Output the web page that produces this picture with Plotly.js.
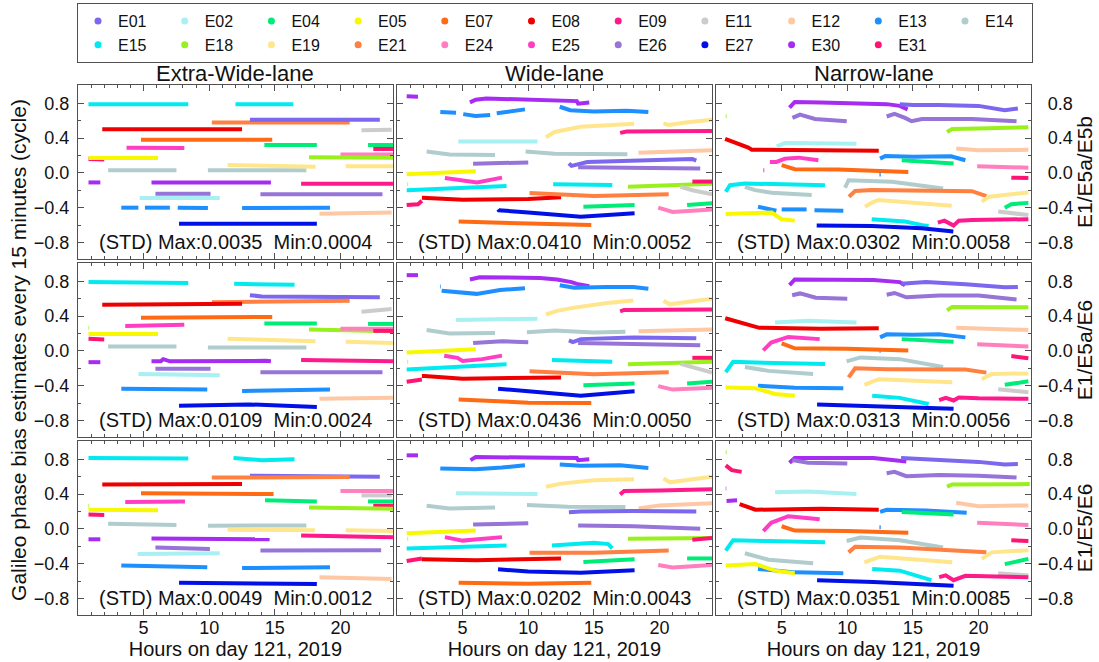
<!DOCTYPE html>
<html><head><meta charset="utf-8">
<script src="https://cdn.plot.ly/plotly-3.0.1.min.js"></script>
<style>html,body{margin:0;padding:0;background:#fff}#chart{width:1099px;height:662px}</style>
</head><body><div id="chart"></div>
<script>
const satellites = ['E01','E02','E04','E05','E07','E08','E09','E11','E12','E13','E14','E15','E18','E19','E21','E24','E25','E26','E27','E30','E31'];
const satColors = ['#7b68ee','#a8f0f2','#00ec78','#f8f800','#ff6a14','#ee0000','#ff1a8c','#cccccc','#ffc8a4','#1e8fff','#b0cccc','#00eaf0','#9af01c','#ffe68c','#ff8040','#ff7fbf','#ff3ec4','#9674d8','#0010e6','#a62cf2','#ff1474'];
const laneTitles = ['Extra-Wide-lane','Wide-lane','Narrow-lane'];
const comboTitles = ['E1/E5a/E5b','E1/E5a/E6','E1/E5/E6'];
const yTitle = 'Galileo phase bias estimates every 15 minutes (cycle)';
const xTitle = 'Hours on day 121, 2019';
const xTickVals = [5,10,15,20];
const yTickVals = [-0.8,-0.4,0,0.4,0.8];
const yTickText = ['\u22120.8','\u22120.4','0.0','0.4','0.8'];
const stdMax = ['0.0035','0.0410','0.0302','0.0109','0.0436','0.0313','0.0049','0.0202','0.0351'];
const stdMin = ['0.0004','0.0052','0.0058','0.0024','0.0050','0.0056','0.0012','0.0043','0.0085'];

// Each segment: [satellite, hours, bias values]
const P11 = [
 ['E15',[0.8,8.4],[0.79,0.79]],['E15',[12.0,16.4],[0.79,0.79]],
 ['E21',[10.2,20.7],[0.58,0.58]],['E01',[13.1,23.0],[0.61,0.61]],
 ['E08',[1.85,12.5],[0.50,0.50]],['E11',[21.6,23.9],[0.49,0.495]],
 ['E07',[4.8,14.8],[0.38,0.38]],['E04',[14.2,18.2],[0.32,0.32]],['E04',[22.1,24],[0.32,0.32]],
 ['E25',[3.7,8.1],[0.29,0.285]],['E31',[22.5,24],[0.275,0.275]],['E24',[20.0,24],[0.21,0.21]],
 ['E05',[0.8,6.1],[0.17,0.17]],['E31',[0.8,2.0],[0.16,0.155]],['E18',[17.6,24],[0.18,0.175]],
 ['E14',[2.3,7.5],[0.03,0.03]],['E14',[9.9,17.4],[0.03,0.03]],
 ['E19',[11.4,18.1],[0.09,0.07]],['E19',[20.4,24],[0.075,0.075]],
 ['E30',[0.8,1.7],[-0.11,-0.11]],['E30',[5.6,14.7],[-0.11,-0.11]],['E09',[17.0,24],[-0.125,-0.125]],
 ['E26',[5.9,10.1],[-0.24,-0.24]],['E26',[13.9,23.2],[-0.245,-0.245]],['E02',[4.7,10.8],[-0.29,-0.29]],
 ['E13',[3.3,4.6],[-0.40,-0.40]],['E13',[5.1,7.0],[-0.40,-0.40]],['E13',[7.6,9.9],[-0.40,-0.405]],['E13',[12.5,19.2],[-0.405,-0.40]],
 ['E12',[18.4,23.9],[-0.47,-0.455]],['E27',[7.7,18.2],[-0.585,-0.585]]
];
const P12 = [
 ['E30',[0.74,1.6],[0.88,0.875]],
 ['E30',[5.56,6.0,6.8,10.9,13.7,13.8,14.65],[0.81,0.84,0.855,0.84,0.825,0.795,0.81]],
 ['E13',[3.3,4.5],[0.70,0.69]],['E13',[5.05,6.0,7.1],[0.675,0.655,0.665]],['E13',[7.6,9.75],[0.685,0.73]],
 ['E13',[12.4,13.2,15,17.5,19.15],[0.76,0.72,0.705,0.715,0.70]],
 ['E19',[11.35,12,14,16,18.06],[0.41,0.47,0.53,0.55,0.565]],['E19',[20.3,20.7,22,24],[0.57,0.55,0.58,0.61]],
 ['E09',[17.0,17.5,24],[0.46,0.475,0.48]],['E02',[4.67,10.7],[0.36,0.36]],
 ['E14',[2.26,4,7.47],[0.245,0.21,0.205]],['E14',[9.8,12,17.55],[0.245,0.22,0.215]],
 ['E12',[18.4,24],[0.23,0.26]],['E26',[5.8,10.0],[0.105,0.12]],['E26',[13.8,20,23.1],[0.065,0.06,0.05]],
 ['E01',[13.1,13.3,14.5,18,22.5,22.8],[0.11,0.08,0.125,0.145,0.16,0.14]],
 ['E05',[0.74,6.0],[-0.015,0.02]],['E25',[3.65,6.1,8.0],[-0.06,-0.11,-0.055]],
 ['E15',[0.74,8.35],[-0.2,-0.15]],['E15',[11.9,16.4],[-0.13,-0.14]],
 ['E18',[17.6,24],[-0.16,-0.125]],['E18',[0.8,0.85],[-0.13,-0.13]],
 ['E11',[21.6,22.5,24],[-0.16,-0.2,-0.245]],['E31',[22.5,24],[-0.10,-0.10]],
 ['E24',[19.9,21,24],[-0.40,-0.45,-0.42]],['E31',[0.74,1.6,1.9],[-0.37,-0.36,-0.32]],
 ['E08',[1.9,5,10,12.5],[-0.285,-0.31,-0.30,-0.28]],['E21',[10.1,15,20.7],[-0.23,-0.265,-0.245]],
 ['E04',[14.2,18.1],[-0.39,-0.37]],['E04',[22.1,24],[-0.37,-0.35]],
 ['E27',[7.7,7.75,10,14,18.1],[-0.42,-0.43,-0.455,-0.505,-0.465]],['E07',[4.7,9,14.8],[-0.56,-0.58,-0.6]]
];
const P13 = [
 ['E30',[5.6,6.0,8,11,13,14.0,14.6],[0.75,0.815,0.81,0.80,0.79,0.77,0.73]],
 ['E01',[14.0,15,17,20,22,23.0],[0.79,0.78,0.78,0.77,0.72,0.74]],
 ['E26',[5.82,6.4,7.54,9.96],[0.632,0.67,0.62,0.594]],
 ['E26',[13.0,13.6,14.4,14.9,15.7,19.5,22.9],[0.648,0.678,0.632,0.594,0.62,0.62,0.594]],
 ['E18',[0.74,0.8],[0.65,0.65]],['E18',[17.6,18,20,23.8],[0.47,0.505,0.51,0.525]],
 ['E08',[0.69,1.7,2.46,2.72,6.8,12.4],[0.39,0.335,0.29,0.267,0.265,0.255]],
 ['E02',[4.62,5.26,10.7],[0.305,0.343,0.335]],['E12',[18.3,20,23.8],[0.28,0.26,0.265]],
 ['E25',[3.6,3.68],[0.03,0.03]],['E25',[4.1,4.6,5.26,6.3,7.8],[0.126,0.126,0.164,0.175,0.145]],
 ['E07',[5.0,5.5,6.0,9.3,14.65],[0.088,0.061,0.042,0.038,0.011]],
 ['E13',[12.5,12.9,15,17.9,19.0],[0.164,0.194,0.185,0.19,0.145]],['E13',[12.45,12.55],[-0.02,-0.02]],
 ['E04',[14.15,18.1],[0.145,0.107]],['E24',[19.9,23.8],[0.075,0.06]],['E31',[22.5,23.8],[-0.055,-0.06]],
 ['E15',[0.74,1.07,2.2,8.3],[-0.217,-0.141,-0.122,-0.141]],
 ['E14',[2.2,2.97,4.24,7.29],[-0.16,-0.198,-0.229,-0.255]],
 ['E14',[9.83,10.1,13.4,15.7,17.3],[-0.171,-0.084,-0.103,-0.141,-0.179]],
 ['E21',[10.13,10.6,11.86,19.5,20.6],[-0.274,-0.209,-0.198,-0.21,-0.267]],
 ['E19',[11.35,11.86,12.37,17.96],[-0.389,-0.343,-0.312,-0.377]],['E19',[20.25,20.8,23.8],[-0.33,-0.274,-0.225]],
 ['E11',[21.5,23.8],[-0.445,-0.485]],['E04',[22.0,22.5,23.8],[-0.40,-0.36,-0.345]],
 ['E13',[3.2,4.6],[-0.39,-0.435]],['E13',[5.0,6.9],[-0.42,-0.42]],['E13',[7.5,9.7],[-0.43,-0.435]],
 ['E05',[0.74,2.97,4.24,5.0,6.0],[-0.472,-0.465,-0.457,-0.533,-0.549]],
 ['E15',[11.86,14.4,15.9,16.2],[-0.533,-0.56,-0.606,-0.61]],
 ['E09',[16.9,17.4,18.1,18.5,19.5,23.8],[-0.571,-0.549,-0.606,-0.549,-0.541,-0.533]],
 ['E27',[7.67,11.86,15.67,18.08],[-0.606,-0.61,-0.636,-0.674]]
];
const P21 = [
 ['E15',[0.8,8.4],[0.79,0.78]],['E15',[11.9,16.5],[0.77,0.76]],
 ['E01',[13.1,14,23.0],[0.64,0.625,0.615]],['E21',[10.2,20.7],[0.56,0.575]],
 ['E08',[1.85,12.5],[0.53,0.54]],['E11',[21.6,23.9],[0.45,0.48]],['E07',[4.8,14.8],[0.38,0.39]],
 ['E25',[3.6,8.1],[0.285,0.30]],['E04',[14.2,18.2],[0.315,0.315]],['E04',[22.1,24],[0.31,0.31]],
 ['E18',[17.6,24],[0.245,0.225]],['E18',[0.8,0.85],[0.265,0.265]],['E24',[20,24],[0.255,0.255]],
 ['E31',[22.5,24],[0.23,0.23]],['E05',[0.8,6.1],[0.195,0.195]],['E31',[0.8,2.0],[0.14,0.13]],
 ['E19',[11.4,18.1],[0.14,0.11]],['E19',[20.4,24],[0.105,0.09]],
 ['E14',[2.3,7.5],[0.05,0.05]],['E14',[9.9,17.4],[0.04,0.04]],
 ['E30',[0.8,1.7],[-0.13,-0.13]],['E30',[5.6,6.3,6.5,7,14.3,14.7],[-0.12,-0.12,-0.095,-0.12,-0.115,-0.12]],
 ['E09',[17.0,24],[-0.105,-0.12]],['E26',[5.9,10.1],[-0.205,-0.205]],['E26',[13.9,23.2],[-0.245,-0.245]],
 ['E02',[4.6,10.8],[-0.265,-0.28]],['E13',[3.3,9.85],[-0.435,-0.445]],['E13',[12.5,19.2],[-0.46,-0.445]],
 ['E12',[18.4,24],[-0.55,-0.54]],['E27',[7.7,13,18.2],[-0.63,-0.615,-0.645]]
];
const P22 = [
 ['E30',[0.74,1.6],[0.87,0.87]],
 ['E30',[5.56,6.3,10.9,12.2,13.3,13.7,14.65],[0.82,0.846,0.838,0.82,0.79,0.77,0.743]],
 ['E13',[3.3,3.35],[0.74,0.74]],['E13',[3.4,6.07,7.85,9.75],[0.69,0.655,0.70,0.72]],
 ['E13',[12.4,13.5,16,18,19.15],[0.755,0.725,0.735,0.735,0.715]],
 ['E19',[11.35,12.2,13.4,16.0,18.0],[0.418,0.46,0.494,0.551,0.578]],['E19',[20.3,20.8,22.5,24],[0.575,0.535,0.57,0.60]],
 ['E09',[17.0,17.3,24],[0.455,0.47,0.475]],['E02',[4.5,10.7],[0.355,0.37]],
 ['E14',[2.26,4,7.47],[0.24,0.20,0.205]],['E14',[9.9,12,15,17.4],[0.215,0.235,0.21,0.22]],
 ['E12',[18.4,24],[0.225,0.245]],['E26',[5.8,8,10.0],[0.09,0.11,0.10]],['E26',[13.8,18,23.1],[0.09,0.08,0.065]],
 ['E01',[13.1,13.4,14,18,22.8],[0.12,0.10,0.135,0.155,0.145]],
 ['E05',[0.74,6.0],[-0.02,0.02]],['E25',[3.6,4.6,5.0,6.5,8.0],[-0.055,-0.08,-0.115,-0.095,-0.055]],
 ['E15',[0.74,8.35],[-0.215,-0.155]],['E15',[11.8,16.4],[-0.105,-0.125]],
 ['E18',[17.6,24],[-0.155,-0.125]],['E18',[0.8,0.85],[-0.125,-0.125]],
 ['E11',[21.6,24],[-0.15,-0.25]],['E31',[22.5,24],[-0.08,-0.08]],['E31',[0.74,1.9],[-0.355,-0.33]],
 ['E08',[1.9,2.1,5,12.5],[-0.29,-0.29,-0.32,-0.305]],['E21',[10.1,15,20.7],[-0.235,-0.27,-0.245]],
 ['E04',[14.2,18.1],[-0.395,-0.375]],['E04',[22.1,24],[-0.375,-0.355]],
 ['E24',[19.9,21,24],[-0.405,-0.445,-0.425]],['E27',[7.7,10,14,18.1],[-0.435,-0.465,-0.515,-0.465]],
 ['E07',[4.7,10,14.8],[-0.56,-0.595,-0.60]]
];
const P23 = [
 ['E30',[5.6,6.0,12,14,14.4],[0.755,0.82,0.815,0.79,0.755]],
 ['E01',[14.1,16,19,22,23.0],[0.77,0.79,0.765,0.73,0.735]],
 ['E26',[5.8,6.4,7.6,10.0],[0.64,0.66,0.61,0.60]],
 ['E26',[13.0,13.6,14.5,17,20,22.9],[0.645,0.665,0.615,0.635,0.635,0.59]],
 ['E18',[17.6,18,23.8],[0.465,0.505,0.50]],
 ['E08',[0.7,2,3.3,8,12.4],[0.375,0.325,0.265,0.255,0.26]],
 ['E02',[4.5,7,10.7],[0.325,0.345,0.325]],['E12',[18.3,23.8],[0.265,0.24]],
 ['E13',[12.5,13,15,17,19.0],[0.155,0.19,0.185,0.19,0.155]],['E13',[12.45,12.55],[0.0,0.0]],
 ['E04',[14.15,18.1],[0.135,0.105]],['E25',[3.6,4.2,5.5,7.9],[0.005,0.095,0.16,0.135]],
 ['E07',[5.0,6,10,14.65],[0.085,0.03,0.025,0.005]],['E24',[19.9,23.8],[0.075,0.05]],
 ['E31',[22.5,23.8],[-0.06,-0.085]],['E15',[0.74,1.3,3,8.3],[-0.245,-0.125,-0.135,-0.15]],
 ['E14',[2.2,4,7.4],[-0.185,-0.23,-0.265]],['E14',[9.95,11,14,17.3],[-0.12,-0.075,-0.095,-0.185]],
 ['E21',[10.1,10.6,13,19,20.6],[-0.305,-0.2,-0.21,-0.215,-0.25]],
 ['E19',[11.3,12.4,18.0],[-0.39,-0.325,-0.36]],['E19',[20.25,21,23.8],[-0.325,-0.265,-0.26]],
 ['E11',[21.5,23.8],[-0.44,-0.475]],['E04',[22.0,23.8],[-0.39,-0.35]],
 ['E13',[3.2,6,9.7],[-0.40,-0.425,-0.43]],['E05',[0.74,3,4.5,6.0],[-0.42,-0.43,-0.495,-0.515]],
 ['E15',[11.9,14,16.2],[-0.515,-0.54,-0.61]],
 ['E09',[17.0,17.5,18.1,18.5,20,23.8],[-0.565,-0.54,-0.57,-0.535,-0.545,-0.55]],
 ['E27',[7.7,12,18.1],[-0.615,-0.635,-0.665]]
];
const P31 = [
 ['E15',[0.8,8.4],[0.815,0.81]],['E15',[11.85,14,16.5],[0.815,0.79,0.80]],
 ['E01',[13.1,23.0],[0.61,0.60]],['E21',[10.2,20.7],[0.59,0.595]],['E08',[1.85,12.5],[0.51,0.515]],
 ['E24',[20,24],[0.435,0.435]],['E11',[21.6,23.9],[0.385,0.385]],['E07',[4.8,14.9],[0.41,0.40]],
 ['E04',[14.25,18.2],[0.33,0.315]],['E04',[22.1,24],[0.315,0.315]],['E25',[3.6,8.15],[0.31,0.315]],
 ['E31',[22.5,24],[0.265,0.265]],['E18',[17.6,24],[0.245,0.23]],['E18',[0.8,0.85],[0.265,0.265]],
 ['E05',[0.8,6.1],[0.22,0.215]],['E31',[0.8,2.0],[0.165,0.16]],
 ['E14',[2.3,7.5],[0.06,0.045]],['E14',[9.9,17.4],[0.035,0.04]],
 ['E19',[11.4,18.05],[-0.01,-0.015]],['E19',[20.4,24],[-0.015,-0.025]],
 ['E30',[0.8,1.7],[-0.12,-0.12]],['E30',[5.6,14.6],[-0.11,-0.12]],['E09',[17.0,24],[-0.075,-0.095]],
 ['E26',[5.9,10.05],[-0.215,-0.23]],['E26',[13.9,23.1],[-0.25,-0.245]],['E02',[4.55,10.8],[-0.29,-0.28]],
 ['E13',[3.3,9.85],[-0.42,-0.44]],['E13',[12.5,19.2],[-0.45,-0.44]],
 ['E12',[18.4,23.9],[-0.555,-0.575]],['E27',[7.7,18.2],[-0.62,-0.635]]
];
const P32 = [
 ['E30',[0.74,1.6],[0.845,0.845]],['E30',[5.6,6.0,10,13.7,13.8,14.65],[0.79,0.825,0.82,0.815,0.79,0.80]],
 ['E13',[3.3,6,8,9.75],[0.695,0.685,0.705,0.73]],['E13',[12.4,14,17,19.15],[0.74,0.725,0.73,0.70]],
 ['E19',[11.35,12.5,15,18.06],[0.485,0.52,0.56,0.57]],['E19',[20.3,20.8,22.5,24],[0.58,0.535,0.57,0.60]],
 ['E09',[17.0,17.3,20,24],[0.395,0.435,0.44,0.455]],['E02',[4.5,4.7,10.7],[0.41,0.41,0.40]],
 ['E14',[2.26,4,7.47],[0.265,0.235,0.245]],['E14',[9.9,13,17.4],[0.275,0.255,0.25]],
 ['E12',[18.4,20,24],[0.235,0.27,0.295]],['E01',[13.1,14,18,22.8],[0.19,0.2,0.205,0.2]],
 ['E26',[5.8,10.0],[0.05,0.065]],['E26',[13.8,18,23.1],[0.04,0.03,0.0]],
 ['E05',[0.74,6.0],[-0.05,-0.02]],['E25',[3.65,5,8.0],[-0.095,-0.135,-0.095]],
 ['E15',[0.74,8.35],[-0.225,-0.19]],['E15',[11.8,15,16.1,16.4],[-0.19,-0.16,-0.175,-0.225]],
 ['E18',[17.6,24],[-0.115,-0.105]],['E18',[0.8,0.85],[-0.115,-0.115]],
 ['E31',[22.5,24],[-0.125,-0.105]],['E31',[0.74,1.9],[-0.37,-0.34]],
 ['E08',[1.9,6,12.5],[-0.35,-0.36,-0.34]],['E21',[10.1,15,20.7],[-0.275,-0.275,-0.25]],
 ['E04',[14.2,18.1],[-0.38,-0.35]],['E04',[22.1,24],[-0.34,-0.34]],
 ['E24',[19.9,21,24],[-0.415,-0.445,-0.415]],['E27',[7.7,10,14,18.1],[-0.465,-0.49,-0.505,-0.475]],
 ['E07',[4.7,10,14.8],[-0.62,-0.63,-0.62]]
];
const P33 = [
 ['E18',[0.74,0.8],[0.88,0.88]],['E31',[0.74,1.2,1.95],[0.73,0.675,0.655]],
 ['E30',[0.74,0.78],[0.465,0.465]],['E30',[0.8,1.6],[0.32,0.33]],
 ['E30',[5.6,6.0,12,14,14.5],[0.76,0.815,0.815,0.79,0.775]],
 ['E26',[5.8,7,10.0],[0.79,0.76,0.75]],['E01',[14.1,16,20,22,23.0],[0.815,0.80,0.77,0.74,0.745]],
 ['E26',[13.0,13.6,14.5,17,20,22.9],[0.64,0.655,0.605,0.62,0.61,0.59]],
 ['E18',[17.6,18,23.9],[0.485,0.51,0.515]],['E02',[4.5,7,10.7],[0.42,0.43,0.40]],
 ['E12',[18.3,20,23.8],[0.30,0.26,0.27]],['E08',[1.8,3,8,12.4],[0.285,0.22,0.23,0.22]],
 ['E13',[12.5,13,16,19.1],[0.195,0.22,0.21,0.185]],['E13',[12.45,12.55],[0.02,0.02]],
 ['E04',[14.15,18.1],[0.195,0.165]],['E25',[3.6,4.2,5.5,7.9],[-0.025,0.07,0.145,0.11]],
 ['E07',[5.0,6,10,14.65],[0.03,-0.02,-0.025,-0.045]],['E24',[19.9,23.8],[0.07,0.045]],
 ['E31',[22.5,23.8],[-0.13,-0.14]],['E15',[0.74,1.3,4,8.3],[-0.25,-0.13,-0.14,-0.155]],
 ['E14',[2.2,4,7.4],[-0.28,-0.355,-0.395]],['E14',[9.95,11,14,17.3],[-0.14,-0.10,-0.13,-0.215]],
 ['E21',[10.1,10.6,14,20.6],[-0.27,-0.205,-0.215,-0.27]],
 ['E19',[11.3,12.5,18.0],[-0.385,-0.32,-0.385]],['E19',[20.25,21,23.8],[-0.345,-0.27,-0.245]],
 ['E11',[21.5,23.8],[-0.51,-0.535]],['E04',[22.0,23.8],[-0.405,-0.345]],
 ['E13',[3.2,6,9.7],[-0.46,-0.50,-0.51]],['E05',[0.74,3,4.5,6.0],[-0.42,-0.405,-0.48,-0.51]],
 ['E15',[11.9,14,16.4],[-0.46,-0.48,-0.59]],
 ['E09',[17.0,17.5,18.1,19,23.8],[-0.555,-0.535,-0.59,-0.54,-0.555]],
 ['E27',[7.7,12,18.1],[-0.59,-0.61,-0.655]]
];
const panels = [P11,P12,P13,P21,P22,P23,P31,P32,P33];

// ---------- build ----------
const FONT = 'Liberation Sans, Arial, Helvetica, sans-serif';
const FRAME = '#505050';
const TXT = '#111';
const colorOf = {};
satellites.forEach((s,i)=>{ colorOf[s] = satColors[i]; });

const traces = [];
satellites.forEach(s=>{
  traces.push({type:'scatter', mode:'markers', x:[null], y:[null], name:s, xaxis:'x', yaxis:'y',
    marker:{color:colorOf[s], size:7}, showlegend:true, hoverinfo:'skip'});
});
panels.forEach((segs,k)=>{
  const ax = k===0 ? '' : String(k+1);
  const bySat = {};
  segs.forEach(([s,xs,ys])=>{
    if(!bySat[s]) bySat[s] = {x:[],y:[]};
    if(bySat[s].x.length){ bySat[s].x.push(null); bySat[s].y.push(null); }
    bySat[s].x.push(...xs); bySat[s].y.push(...ys);
  });
  Object.keys(bySat).forEach(s=>{
    traces.push({type:'scatter', mode:'lines', x:bySat[s].x, y:bySat[s].y, xaxis:'x'+ax, yaxis:'y'+ax,
      line:{color:colorOf[s], width:4}, showlegend:false, hoverinfo:'skip', connectgaps:false});
  });
});

const cols = [[0,0.3305],[0.3347,0.6653],[0.6695,1]];
const rows = [[0.6717,1],[0.3358,0.6642],[0,0.3283]];
const layout = {
  width:1099, height:662,
  margin:{l:78, r:68, t:85, b:47, autoexpand:false},
  paper_bgcolor:'#fff', plot_bgcolor:'#fff',
  font:{family:FONT, size:18, color:TXT},
  showlegend:true,
  legend:{orientation:'h', xref:'container', yref:'container', x:77/1099, xanchor:'left',
    y:1-3/662, yanchor:'top', bordercolor:FRAME, borderwidth:1, bgcolor:'#fff',
    font:{family:FONT, size:16, color:TXT}, entrywidth:41.7, entrywidthmode:'pixels',
    traceorder:'normal', itemclick:false},
  annotations:[]
};
for(let r=0;r<3;r++){
  for(let c=0;c<3;c++){
    const k = r*3+c+1;
    const sfx = k===1 ? '' : String(k);
    layout['xaxis'+sfx] = {
      domain:cols[c], anchor:'y'+sfx, range:[0,24], showgrid:false, zeroline:false,
      showline:true, linecolor:FRAME, linewidth:1.2, mirror:'allticks',
      ticks:'inside', ticklen:6, tickwidth:1, tickcolor:FRAME,
      tickmode:'array', tickvals:xTickVals, showticklabels:(r===2),
      tickfont:{family:FONT, size:18, color:TXT}, ticklabelstandoff:-4,
      minor:{tickmode:'linear', tick0:0, dtick:1, ticks:'inside', ticklen:3, tickcolor:FRAME, showgrid:false},
      title: r===2 ? {text:xTitle, font:{family:FONT, size:20, color:TXT}, standoff:0} : {text:''}
    };
    const ya = {
      domain:rows[r], anchor:'x'+sfx, range:[-0.99,1.01], showgrid:false, zeroline:false,
      showline:true, linecolor:FRAME, linewidth:1.2, mirror:'allticks',
      ticks:'inside', ticklen:6, tickwidth:1, tickcolor:FRAME,
      tickmode:'array', tickvals:yTickVals,
      ticktext: c===2 ? yTickText.map(t => t[0]==='\u2212' ? t : '\u2007'+t) : yTickText,
      showticklabels:(c!==1), side:(c===2?'right':'left'),
      tickfont:{family:FONT, size:18, color:TXT}, ticklabelstandoff:(c===2?2:4),
      minor:{tickmode:'linear', tick0:0, dtick:0.2, ticks:'inside', ticklen:3, tickcolor:FRAME, showgrid:false}
    };
    if(c===2) ya.title = {text:comboTitles[r], font:{family:FONT, size:21, color:TXT}, standoff:3};
    if(c===0 && r===1) ya.title = {text:yTitle, font:{family:FONT, size:21, color:TXT}, standoff:1};
    layout['yaxis'+sfx] = ya;
    layout.annotations.push({
      xref:'x'+sfx, yref:'y'+sfx, x:12, y:-0.8, showarrow:false,
      text:'(STD) Max:'+stdMax[k-1]+' \u00a0Min:'+stdMin[k-1],
      font:{family:FONT, size:20, color:TXT}, xanchor:'center', yanchor:'middle'
    });
    if(r===0){
      layout.annotations.push({
        xref:'x'+sfx+' domain', yref:'paper', x:0.5, y:1.0226, showarrow:false,
        text:laneTitles[c], font:{family:FONT, size:22, color:TXT}, xanchor:'center', yanchor:'middle'
      });
    }
  }
}
Plotly.newPlot('chart', traces, layout, {displayModeBar:false, staticPlot:true});
</script>
</body></html>
